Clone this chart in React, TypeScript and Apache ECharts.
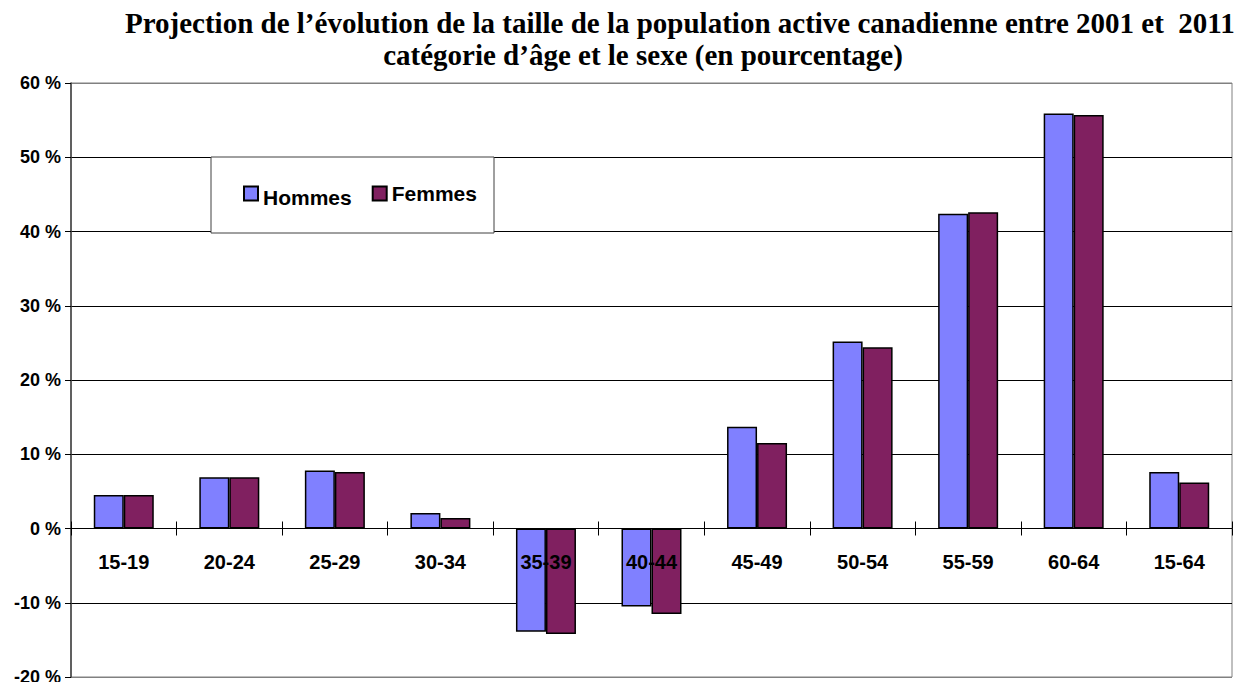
import React, { useEffect, useRef } from "react";
import * as echarts from "echarts";

const categories = ["15-19", "20-24", "25-29", "30-34", "35-39", "40-44", "45-49", "50-54", "55-59", "60-64", "15-64"];
const hommes = [4.5, 6.9, 7.8, 2.1, -13.9, -10.5, 13.7, 25.2, 42.4, 55.9, 7.6];
const femmes = [4.5, 6.9, 7.6, 1.4, -14.2, -11.5, 11.5, 24.4, 42.6, 55.7, 6.2];
const yMin = -20;
const yMax = 60;
const yStep = 10;
const titleLine1 = "Projection de l\u2019évolution de la taille de la population active canadienne entre 2001 et  2011";
const titleLine2 = "catégorie d\u2019âge et le sexe (en pourcentage)";

export default function App() {
  const ref = useRef<HTMLDivElement>(null);
  useEffect(() => {
    if (!ref.current) return;
    const chart = echarts.init(ref.current, undefined, { renderer: "svg" });
    const serif = "'Liberation Serif', 'Times New Roman', serif";
    const sans = "'Liberation Sans', Arial, sans-serif";
    const gridColors = ["#808080", "#000", "#000", "#000", "#000", "#000", "#000", "#000", "#808080"];
    const legendText = { fontFamily: sans, fontWeight: "bold", fontSize: 21, color: "#000" };
    chart.setOption({
      animation: false,
      backgroundColor: "#fff",
      title: [
        {
          text: titleLine1,
          left: 125,
          top: 8,
          padding: 0,
          textStyle: { fontFamily: serif, fontWeight: "bold", fontSize: 29, color: "#000" },
        },
        {
          text: titleLine2,
          left: 643,
          textAlign: "center",
          top: 40,
          padding: 0,
          textStyle: { fontFamily: serif, fontWeight: "bold", fontSize: 29, color: "#000" },
        },
      ],
      graphic: [
        {
          type: "rect",
          z: 3,
          shape: { x: 211, y: 157, width: 283, height: 76 },
          style: { fill: "#fff", stroke: "#404040", lineWidth: 1 },
        },
      ],
      legend: {
        left: 243,
        top: 183,
        padding: 0,
        itemWidth: 14,
        itemHeight: 14,
        itemGap: 20,
        icon: "rect",
        formatter: (name: string) => (name === "Femmes" ? `{f|${name}}` : `{h|${name}}`),
        textStyle: {
          ...legendText,
          rich: {
            h: { ...legendText, padding: [8, 0, 0, 0] },
            f: { ...legendText, padding: [0, 0, 0, 0] },
          },
        },
        data: ["Hommes", "Femmes"],
      },
      grid: {
        left: 71,
        right: 17,
        top: 83,
        bottom: 5,
        show: true,
        borderColor: "#808080",
        borderWidth: 1,
        outerBoundsMode: "none",
        containLabel: false,
      },
      xAxis: [
        {
          type: "category",
          data: categories,
          position: "bottom",
          z: 3,
          axisLine: { onZero: true, onZeroAxisIndex: 0, lineStyle: { color: "#000", width: 1 } },
          axisTick: { show: true, length: 7, lineStyle: { color: "#000" } },
          axisLabel: {
            margin: -125,
            fontFamily: sans,
            fontWeight: "bold",
            fontSize: 20,
            color: "#000",
          },
        },
        {
          type: "category",
          data: categories,
          position: "top",
          z: 3,
          axisLine: { show: false, onZero: true, onZeroAxisIndex: 1 },
          axisTick: { show: true, length: 7, lineStyle: { color: "#000" } },
          axisLabel: { show: false },
        },
      ],
      yAxis: [
        {
          type: "value",
          min: yMin,
          max: yMax,
          interval: yStep,
          axisLine: { show: true, lineStyle: { color: "#404040", width: 1.5 } },
          axisTick: { show: true, length: 6, lineStyle: { color: "#000" } },
          splitLine: { show: true, lineStyle: { color: gridColors, width: 1 } },
          axisLabel: {
            margin: 10,
            formatter: "{value} %",
            fontFamily: sans,
            fontWeight: "bold",
            fontSize: 18,
            color: "#000",
          },
        },
        {
          type: "value",
          min: yMin,
          max: yMax,
          interval: yStep,
          position: "right",
          axisLine: { show: false },
          axisTick: { show: false },
          axisLabel: { show: false },
          splitLine: { show: false },
        },
      ],
      series: [
        {
          name: "Hommes",
          type: "bar",
          data: hommes,
          barWidth: 30,
          barGap: "0%",
          itemStyle: { color: "#8080FF", borderColor: "#000", borderWidth: 1.5 },
        },
        {
          name: "Femmes",
          type: "bar",
          data: femmes,
          barWidth: 30,
          barGap: "0%",
          itemStyle: { color: "#802060", borderColor: "#000", borderWidth: 1.5 },
        },
      ],
    });
    return () => chart.dispose();
  }, []);
  return (
    <div
      ref={ref}
      style={{ position: "fixed", left: 0, top: 0, width: 1249, height: 682, background: "#fff" }}
    />
  );
}
